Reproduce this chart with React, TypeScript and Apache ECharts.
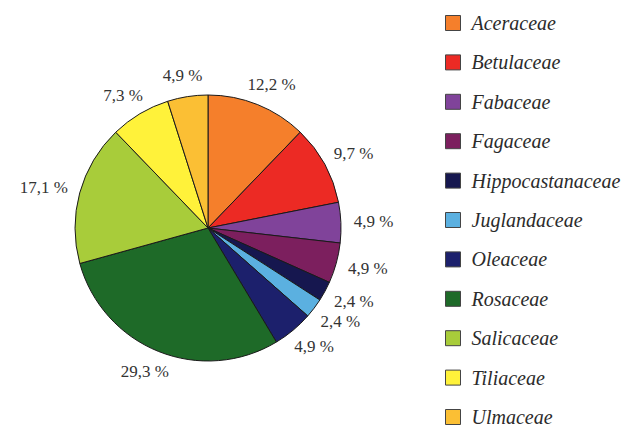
import React, { useEffect, useRef } from "react";
import * as echarts from "echarts";

const families = [
  "Aceraceae",
  "Betulaceae",
  "Fabaceae",
  "Fagaceae",
  "Hippocastanaceae",
  "Juglandaceae",
  "Oleaceae",
  "Rosaceae",
  "Salicaceae",
  "Tiliaceae",
  "Ulmaceae",
];
const shares = [12.2, 9.7, 4.9, 4.9, 2.4, 2.4, 4.9, 29.3, 17.1, 7.3, 4.9];
const colors = [
  "#F57F2B",
  "#EC2A24",
  "#80439A",
  "#7C1F5E",
  "#16174F",
  "#5BB0E0",
  "#1C206C",
  "#1E6A28",
  "#A8CC3A",
  "#FFF23A",
  "#FBBF34",
];

const CX = 208;
const CY = 228;
const R = 133;
const GAP = 13;

export default function App() {
  const ref = useRef<HTMLDivElement>(null);
  useEffect(() => {
    if (!ref.current) return;
    const chart = echarts.init(ref.current, null, { renderer: "svg" });
    const total = shares.reduce((a, b) => a + b, 0);
    const midAngles: number[] = [];
    let acc = 0;
    shares.forEach((v) => {
      midAngles.push(((acc + v / 2) / total) * Math.PI * 2);
      acc += v;
    });
    chart.setOption({
      animation: false,
      backgroundColor: "#ffffff",
      legend: {
        orient: "vertical",
        left: 445,
        top: 13,
        height: 600,
        padding: 0,
        itemWidth: 15,
        itemHeight: 15,
        itemGap: 19.4,
        icon: "rect",
        itemStyle: { borderColor: "#444", borderWidth: 1 },
        textStyle: {
          fontFamily: "Liberation Serif",
          fontStyle: "italic",
          fontSize: 20,
          color: "#2b2b2b",
          padding: [0, 0, 0, 6],
        },
        data: families,
      },
      series: [
        {
          type: "pie",
          center: [CX, CY],
          radius: R,
          startAngle: 90,
          clockwise: true,
          avoidLabelOverlap: false,
          itemStyle: { borderColor: "#1a1a1a", borderWidth: 1 },
          label: {
            show: true,
            position: "outside",
            fontFamily: "Liberation Serif",
            fontSize: 17,
            color: "#333333",
            formatter: (p: any) => `${p.value.toFixed(1).replace(".", ",")} %`,
          },
          labelLine: { show: false },
          labelLayout: (params: any) => {
            const a = midAngles[params.dataIndex];
            const dx = Math.sin(a);
            const dy = -Math.cos(a);
            const w = params.labelRect.width;
            const h = params.labelRect.height;
            return {
              x: CX + dx * (R + GAP) + (dx * w) / 2,
              y: CY + dy * (R + GAP) + (dy * h) / 2,
              align: "center",
              verticalAlign: "middle",
            };
          },
          emphasis: { disabled: true },
          data: families.map((name, i) => ({
            name,
            value: shares[i],
            itemStyle: { color: colors[i] },
          })),
        },
      ],
    });
    return () => chart.dispose();
  }, []);
  return (
    <div
      ref={ref}
      style={{ position: "fixed", left: 0, top: 0, width: 624, height: 433 }}
    />
  );
}
